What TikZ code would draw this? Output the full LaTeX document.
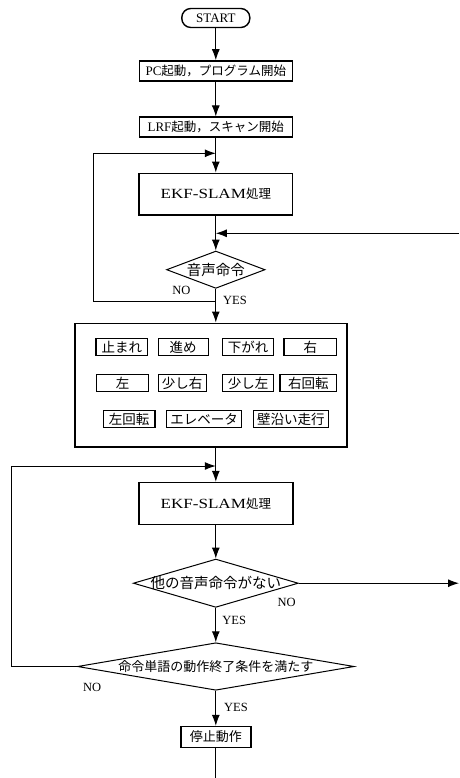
\documentclass[tikz,border=0pt]{standalone}
\usepackage{fontspec}
\setmainfont{Liberation Serif}
\newfontfamily\jp{Noto Sans CJK JP}
\usepackage{graphicx}
\usetikzlibrary{shapes.geometric,arrows.meta}
\newcommand{\fs}[1]{\fontsize{#1}{#1}\selectfont}
\begin{document}
\begin{tikzpicture}[x=1pt,y=-1pt,
  conn/.style={line width=1pt},
  arr/.style={conn,-{Latex[length=11pt,width=8pt]}},
  box/.style={draw,line width=1.6pt,inner sep=0pt,fill=white},
  cmd/.style={box,line width=1.3pt,minimum height=17pt,font=\jp\fs{13.5}},
  dia/.style={draw,shape=diamond,line width=1pt,inner sep=0pt,fill=white},
  lbl/.style={font=\fs{12.5},inner sep=0pt}]
\fill[white] (0,0) rectangle (459,778);
\useasboundingbox (0,0) rectangle (459,778);

% main column
\node[box,line width=1.4pt,rounded corners=9pt,minimum width=68pt,minimum height=19pt,font=\fs{13}] (start) at (215.8,18) {START};
\node[box,minimum width=153pt,minimum height=20pt,font=\fs{13}] (b1) at (215.8,71) {PC{\jp\fs{12.5}起動，プログラム開始}};
\node[box,minimum width=153pt,minimum height=20pt,font=\fs{13}] (b2) at (215.8,127.3) {LRF{\jp\fs{12.5}起動，スキャン開始}};
\node[box,minimum width=153.5pt,minimum height=41.7pt,font=\fs{14}] (ekf1) at (215.8,194.2) {\scalebox{1.22}[1]{EKF-SLAM}{\jp\fs{12.5}処理}};
\node[dia,minimum width=98.5pt,minimum height=37.3pt] (d1) at (215.8,269.7) {\makebox[0pt]{\jp\fs{14.5}音声命令}};

% command box
\node[box,minimum width=272pt,minimum height=123.4pt] (cmds) at (211,385) {};
\node[cmd,minimum width=51.5pt] (c1) at (121.8,347) {止まれ};
\node[cmd,minimum width=50pt] (c2) at (183.2,347) {進め};
\node[cmd,minimum width=50.6pt] (c3) at (248,347) {下がれ};
\node[cmd,minimum width=52.7pt] (c4) at (310.3,347) {右};
\node[cmd,minimum width=51.6pt] (c5) at (122.5,383.3) {左};
\node[cmd,minimum width=48pt] (c6) at (182.2,383.3) {少し右};
\node[cmd,minimum width=50.6pt] (c7) at (248,383.3) {少し左};
\node[cmd,minimum width=56.7pt] (c8) at (308.3,383.3) {右回転};
\node[cmd,minimum width=51.7pt] (c9) at (129.2,419) {左回転};
\node[cmd,minimum width=75pt] (c10) at (204.2,419) {エレベータ};
\node[cmd,minimum width=75pt] (c11) at (290.8,419) {壁沿い走行};

\node[box,minimum width=154pt,minimum height=41.7pt,font=\fs{14}] (ekf2) at (215.8,503.5) {\scalebox{1.22}[1]{EKF-SLAM}{\jp\fs{12.5}処理}};
\node[dia,minimum width=165pt,minimum height=48.3pt] (d2) at (215.8,583.2) {\makebox[0pt]{\jp\fs{14.5}他の音声命令がない}};
\node[dia,minimum width=276.7pt,minimum height=47.5pt] (d3) at (215.8,666.5) {\makebox[0pt]{\jp\fs{13}命令単語の動作終了条件を満たす}};
\node[box,minimum width=70pt,minimum height=20.7pt,font=\jp\fs{13}] (stop) at (215.8,737) {停止動作};

% helper coordinates
\coordinate (m1) at (215.8,153.3);
\coordinate (j1) at (215.8,301.7);
\coordinate (l1) at (93.3,301.7);
\coordinate (l1t) at (93.3,153.3);
\coordinate (rin) at (459,233.3);
\coordinate (rm) at (215.8,233.3);
\coordinate (m2) at (215.8,466);
\coordinate (l2t) at (11.7,466);
\coordinate (l2b) at (11.7,666.5);
\coordinate (rout) at (459,583.2);
\coordinate (bot) at (215.8,778);

% connectors
\draw[arr] (start) -- (b1);
\draw[arr] (b1) -- (b2);
\draw[arr] (b2) -- (ekf1);
\draw[arr] (ekf1) -- (d1);
\draw[arr] (rin) -- (rm);
\draw[arr] (d1) -- (d1 |- cmds.north);
\draw[conn] (j1) -- (l1) -- (l1t);
\draw[arr] (l1t) -- (m1);
\draw[arr] (ekf2 |- cmds.south) -- (ekf2);
\draw[conn] (d3.west) -- (l2b) -- (l2t);
\draw[arr] (l2t) -- (m2);
\draw[arr] (ekf2) -- (d2);
\draw[arr] (d2.east) -- (rout);
\draw[arr] (d2) -- (d3);
\draw[arr] (d3) -- (stop);
\draw[conn] (stop) -- (bot);

% labels
\node[lbl] (no1) at (181.3,290.3) {NO};
\node[lbl] (yes1) at (235,300.3) {YES};
\node[lbl] (no2) at (286.7,602) {NO};
\node[lbl] (yes2) at (234.2,620) {YES};
\node[lbl] (no3) at (92.2,687) {NO};
\node[lbl] (yes3) at (236,707) {YES};
\end{tikzpicture}
\end{document}
